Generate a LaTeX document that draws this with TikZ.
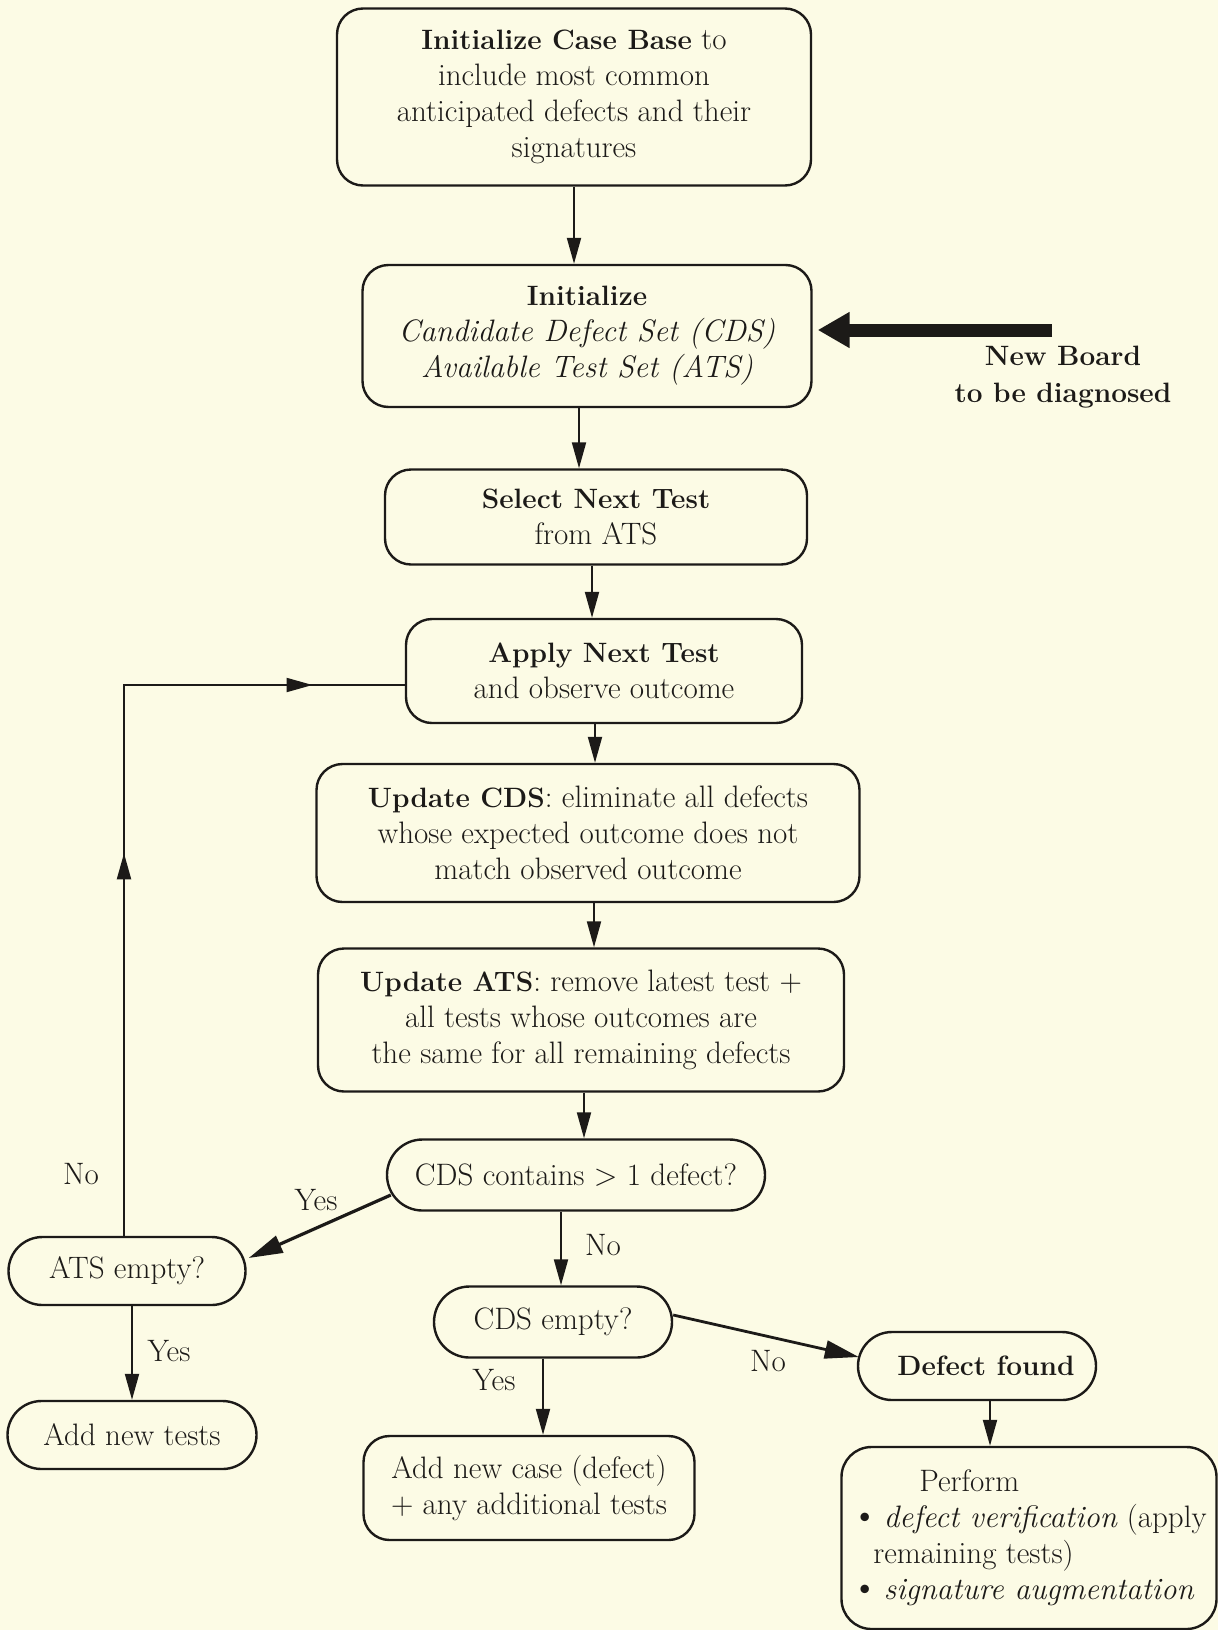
\documentclass[tikz,border=0pt]{standalone}
\usepackage{tikz}
\usetikzlibrary{arrows.meta, positioning, shapes.misc, decorations.markings, calc}
\definecolor{paper}{RGB}{252,251,229}
\definecolor{ink}{RGB}{28,26,24}
\newcommand{\hd}[1]{{\fontsize{28}{36}\selectfont\bfseries #1}}
\newcommand{\dotmark}{{\fontsize{38}{36}\selectfont\textbullet}}

\begin{document}
\begin{tikzpicture}[
    x=1pt, y=-1pt,
    font=\fontsize{31}{36}\selectfont,
    box/.style={rectangle, draw=ink, line width=2.4pt, rounded corners=26pt,
                align=center, inner sep=0pt, text=ink},
    pill/.style={rounded rectangle, draw=ink, line width=2.4pt, inner sep=0pt,
                 text=ink},
    arrow/.style={-{Triangle[length=26pt,width=14pt]}, line width=2pt, ink},
    heavy/.style={-{Triangle[length=34pt,width=18pt]}, line width=3.2pt, ink},
    lbl/.style={text=ink, inner sep=0pt}
]
    \fill[paper] (0,0) rectangle (1218,1630);
    \useasboundingbox (0,0) rectangle (1218,1630);

    % main column
    \node[box, minimum width=474pt, minimum height=177pt] (initcase) at (574,97)
        {\hd{Initialize Case Base} to\\include most common\\anticipated defects and their\\signatures};
    \node[box, minimum width=449pt, minimum height=142pt] (initsets) at (587,336)
        {\hd{Initialize}\\\textit{Candidate Defect Set (CDS)}\\\textit{Available Test Set (ATS)}};
    \node[box, minimum width=422pt, minimum height=95pt] (select) at (596,517)
        {\hd{Select Next Test}\\from ATS};
    \node[box, minimum width=396pt, minimum height=104pt] (apply) at (604,671)
        {\hd{Apply Next Test}\\and observe outcome};
    \node[box, minimum width=543pt, minimum height=138pt] (updcds) at (588,833)
        {\hd{Update CDS}: eliminate all defects\\whose expected outcome does not\\match observed outcome};
    \node[box, minimum width=526pt, minimum height=143pt] (updats) at (581,1020)
        {\hd{Update ATS}: remove latest test +\\all tests whose outcomes are\\the same for all remaining defects};
    \node[pill, minimum width=378pt, minimum height=71pt] (cdsmore) at (576,1175)
        {CDS contains \textgreater{} 1 defect?};

    % branches
    \node[pill, minimum width=237pt, minimum height=68pt] (atsempty) at (127,1271) {ATS empty?};
    \node[pill, minimum width=249pt, minimum height=68pt] (addtests) at (132,1435) {Add new tests};
    \node[pill, minimum width=238pt, minimum height=71pt] (cdsempty) at (553,1322) {CDS empty?};
    \node[box, minimum width=331pt, minimum height=104pt] (addcase) at (529,1488)
        {Add new case (defect)\\+ any additional tests};
    \node[pill, minimum width=238pt, minimum height=68pt] (found) at (977,1366) {\hd{\hspace{18pt}Defect found}};
    \node[box, minimum width=375pt, minimum height=182pt, align=left, rounded corners=30pt] (perform) at (1029,1538)
        {\hspace{68pt}Perform\\\dotmark\,\textit{defect verification} (apply\\\hspace{22pt}remaining tests)\\\dotmark\,\textit{signature augmentation}};

    % new board input
    \node[lbl, align=center, font=\fontsize{28}{37}\selectfont\bfseries] (newboard) at (1063,377)
        {New Board\\to be diagnosed};
    \coordinate (nbtail) at (1052,330);
    \draw[-{Triangle[length=32pt,width=34pt]}, line width=13pt, ink, shorten >=5pt]
        (nbtail) -- (initsets.east |- nbtail);

    % connectors
    \draw[arrow] (initcase.south) -- (initcase.south |- initsets.north);
    \draw[arrow] ([xshift=-8pt]initsets.south) -- ([xshift=-8pt]initsets.south |- select.north);
    \draw[arrow] ([xshift=-4pt]select.south) -- ([xshift=-4pt]select.south |- apply.north);
    \draw[arrow] ([xshift=-9pt]apply.south) -- ([xshift=-9pt]apply.south |- updcds.north);
    \draw[arrow] ([xshift=6pt]updcds.south) -- ([xshift=6pt]updcds.south |- updats.north);
    \draw[arrow] ([xshift=3pt]updats.south) -- ([xshift=3pt]updats.south |- cdsmore.north);
    \draw[arrow] ([xshift=-15pt]cdsmore.south) -- ([xshift=-15pt]cdsmore.south |- cdsempty.north);
    \draw[arrow] ([xshift=-10pt]cdsempty.south) -- ([xshift=-10pt]cdsempty.south |- addcase.north);
    \draw[arrow] (addtests.north |- atsempty.south) -- (addtests.north);
    \draw[arrow] ([xshift=13pt]found.south) -- ([xshift=13pt]found.south |- perform.north);
    \draw[heavy] ([shift={(5,20)}]cdsmore.west) -- ([shift={(2,-13)}]atsempty.east);
    \draw[heavy, line width=2.8pt] ([yshift=7pt]cdsempty.east) -- ([shift={(2,-9)}]found.west);
    \draw[line width=2pt, ink, postaction={decorate}, decoration={markings,
            mark=at position 0.46 with {\arrow{Triangle[length=26pt,width=14pt]}},
            mark=at position 0.889 with {\arrow{Triangle[length=26pt,width=14pt]}}}]
        ([xshift=-3pt]atsempty.north) |- ([yshift=-14pt]apply.west);

    % branch labels
    \node[lbl] (no1) at (81,1174) {No};
    \node[lbl] (yes1) at (316,1200) {Yes};
    \node[lbl] (yes2) at (169,1351) {Yes};
    \node[lbl] (no2) at (603,1245) {No};
    \node[lbl] (yes3) at (494,1380) {Yes};
    \node[lbl] (no3) at (768,1361) {No};
\end{tikzpicture}
\end{document}
